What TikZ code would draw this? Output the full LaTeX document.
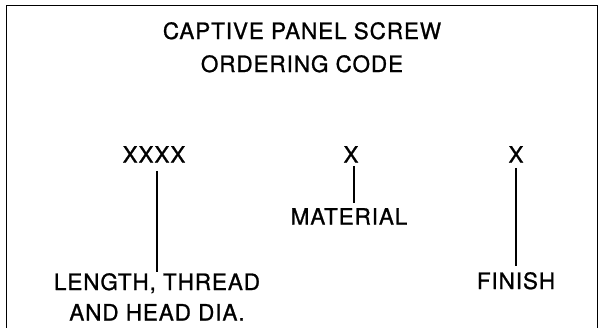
\documentclass[tikz,border=0pt]{standalone}
\usepackage{fontspec}
\setmainfont[LetterSpace=4,FakeBold=1]{TeX Gyre Heros}
\begin{document}
\begin{tikzpicture}[x=1pt,y=-1pt,
  lbl/.style={font=\fontsize{22.5}{30.5}\selectfont, inner sep=0pt, anchor=north, align=center},
  lead/.style={line width=1.2pt}]
\clip (0,0) rectangle (602,328);
\draw[line width=1.6pt] (6.5,5.5) rectangle (597.5,345);
\node[lbl, font=\fontsize{22.5}{33}\selectfont] (title) at (302,22) {CAPTIVE PANEL SCREW\\ORDERING CODE};
\node[lbl] (xxxx) at (154,146) {XXXX};
\node[lbl] (matx) at (351,146) {X};
\node[lbl] (finx) at (516,146) {X};
\node[lbl] (material) at (349,208) {MATERIAL};
\node[lbl] (length) at (157,273) {LENGTH, THREAD\\AND HEAD DIA.};
\node[lbl] (finish) at (516,272) {FINISH};
\draw[lead, shorten <=8pt, shorten >=1pt] (length.north |- xxxx.south) -- (length.north);
\draw[lead, shorten <=3pt, shorten >=5pt] ([xshift=3pt]matx.south) -- ([xshift=3pt]matx.south |- material.north);
\draw[lead, shorten <=5pt, shorten >=6pt] (finx.south) -- (finx.south |- finish.north);
\end{tikzpicture}
\end{document}
